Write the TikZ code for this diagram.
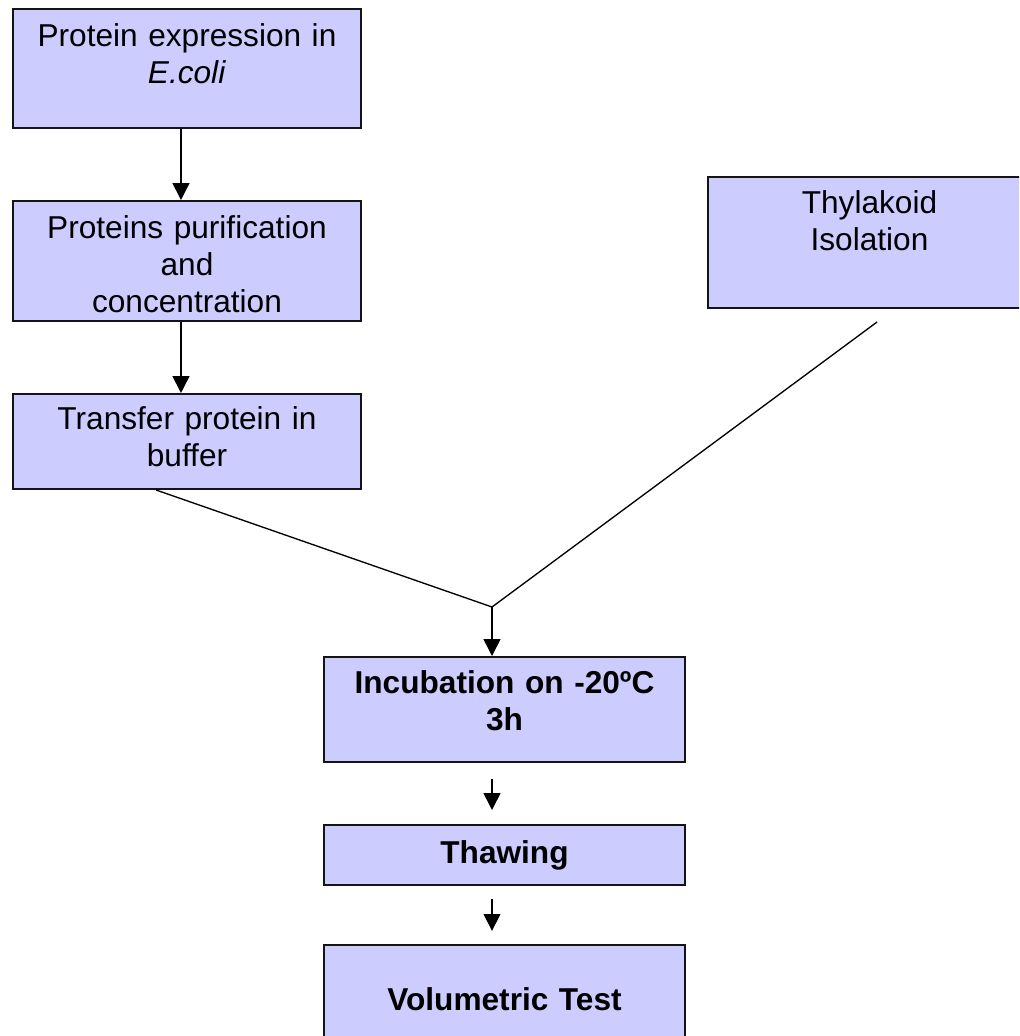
\documentclass[tikz,border=0pt]{standalone}
\usepackage{fontspec}
\setmainfont{Liberation Sans}
\usepackage{tikz}
\usetikzlibrary{positioning,arrows.meta}
\definecolor{boxFill}{RGB}{204,204,255}
\definecolor{boxLine}{RGB}{20,20,20}
\tikzset{
    base/.style={font=\fontsize{22.5}{26.1}\selectfont, align=center},
    % #1 width, #2 height above first baseline, #3 rest of the box
    stage/.style n args={3}{base, rectangle, draw=boxLine, line width=1.4pt,
                    fill=boxFill, inner sep=0pt, anchor=north west,
                    text width=#1, text height=#2, text depth=#3},
    boldstage/.style n args={3}{stage={#1}{#2}{#3},
                    font=\fontsize{22.5}{26.1}\selectfont\bfseries},
    flow/.style={-{Triangle[width=0.42cm,length=0.42cm]}, line width=1.1pt, color=black},
    link/.style={line width=0.95pt, color=black}
}

\begin{document}
\begin{tikzpicture}
  \useasboundingbox (0,0) rectangle (25.475,-25.9);
  \clip (0,0) rectangle (25.475,-25.9);

  % protein branch
  \node[stage={8.7cm}{0.95cm}{2.025cm}] (expr) at (0.3,-0.2)
       {Protein expression in\\\textit{E.coli}};
  \node[stage={8.7cm}{0.95cm}{2.05cm}] (purif) at (0.3,-5.0)
       {Proteins purification\\and\\concentration};
  \node[stage={8.7cm}{0.9cm}{1.475cm}] (transfer) at (0.3,-9.825)
       {Transfer protein in\\buffer};

  % thylakoid branch
  \node[stage={8.075cm}{0.925cm}{2.35cm}] (thyl) at (17.675,-4.4)
       {Thylakoid\\Isolation};

  % common steps
  \node[boldstage={9.025cm}{0.925cm}{1.7cm}] (incub) at (8.075,-16.4)
       {Incubation on -20ºC\\3h};
  \node[boldstage={9.025cm}{0.975cm}{0.525cm}] (thaw) at (8.075,-20.6)
       {Thawing};
  \node[boldstage={9.025cm}{1.65cm}{1.0cm}] (vol) at (8.075,-23.6)
       {Volumetric Test};

  \coordinate (join) at (12.3,-15.175);

  \draw[flow] ([xshift=-0.15cm]expr.south) -- ([xshift=-0.15cm]purif.north);
  \draw[flow] ([xshift=-0.15cm]purif.south) -- ([xshift=-0.15cm]transfer.north);
  \draw[link] ([xshift=-0.775cm]transfer.south) -- (join);
  \draw[link] ([xshift=0.19cm,yshift=-0.325cm]thyl.south) -- (join);
  \draw[flow] (join) -- (join |- incub.north);
  \draw[flow, shorten <=0.4cm, shorten >=0.35cm] (join |- incub.south) -- (join |- thaw.north);
  \draw[flow, shorten <=0.33cm, shorten >=0.33cm] (join |- thaw.south) -- (join |- vol.north);
\end{tikzpicture}
\end{document}
